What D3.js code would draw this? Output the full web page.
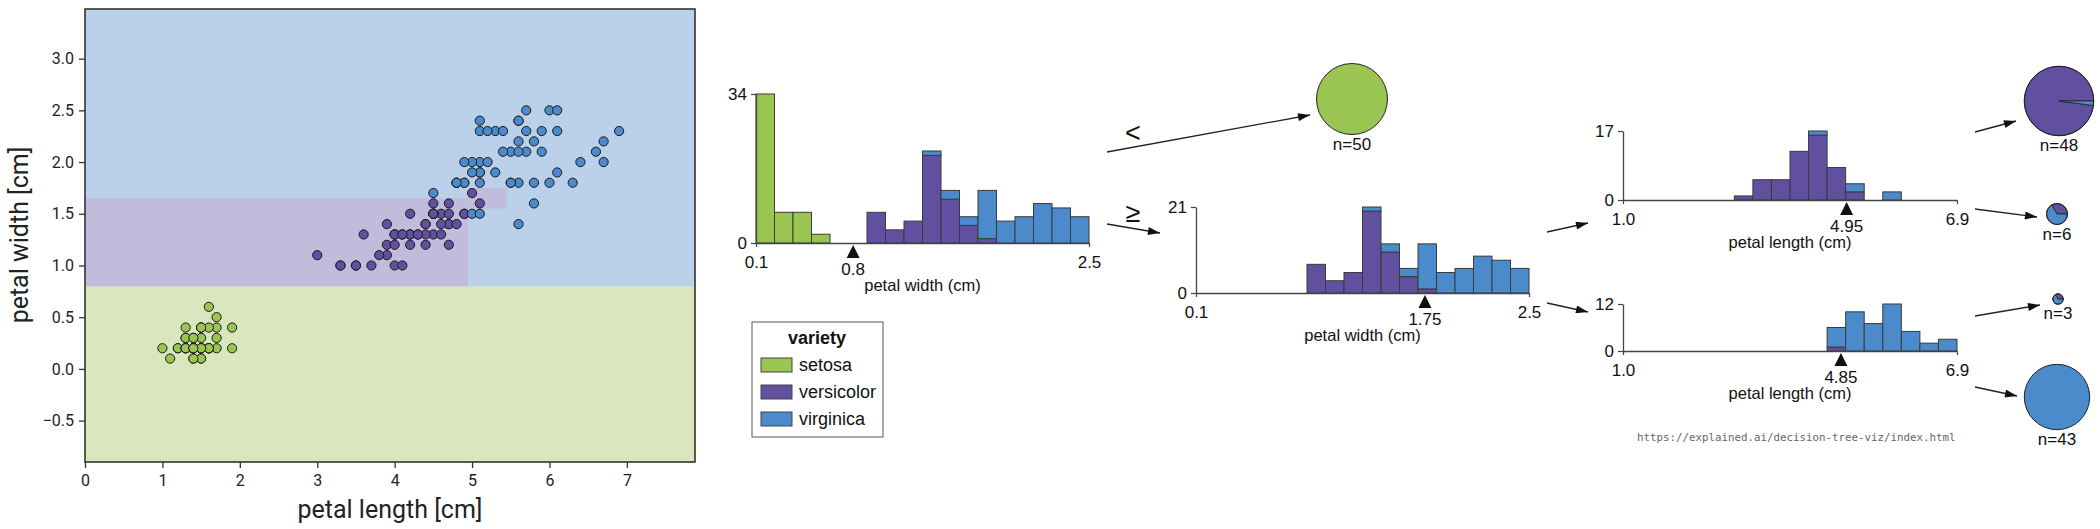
<!DOCTYPE html>
<html><head><meta charset="utf-8">
<script src="https://cdn.jsdelivr.net/npm/d3@7"></script>
<style>html,body{margin:0;padding:0;background:#fff;} svg{display:block;}</style>
</head><body>
<svg id="chart" width="2100" height="529"></svg>
<script>
// ---------------- data ----------------
const classNames = ["setosa", "versicolor", "virginica"];
const classColors = ["#9bc552", "#6150a0", "#4b8bcb"];
const regionColors = ["#d9e6be", "#c1bcdb", "#bbd1e9"];

const setosaLength = [1.4,1.4,1.3,1.5,1.4,1.7,1.4,1.5,1.4,1.5,1.5,1.6,1.4,1.1,1.2,1.5,1.3,1.4,1.7,1.5,1.7,1.5,1.0,1.7,1.9,1.6,1.6,1.5,1.4,1.6,1.6,1.5,1.5,1.4,1.5,1.2,1.3,1.4,1.3,1.5,1.3,1.3,1.3,1.6,1.9,1.4,1.6,1.4,1.5,1.4];
const setosaWidth = [0.2,0.2,0.2,0.2,0.2,0.4,0.3,0.2,0.2,0.1,0.2,0.2,0.1,0.1,0.2,0.4,0.4,0.3,0.3,0.3,0.2,0.4,0.2,0.5,0.2,0.2,0.4,0.2,0.2,0.2,0.2,0.4,0.1,0.2,0.2,0.2,0.2,0.1,0.2,0.2,0.3,0.3,0.2,0.6,0.4,0.3,0.2,0.2,0.2,0.2];
const versicolorLength = [4.7,4.5,4.9,4.0,4.6,4.5,4.7,3.3,4.6,3.9,3.5,4.2,4.0,4.7,3.6,4.4,4.5,4.1,4.5,3.9,4.8,4.0,4.9,4.7,4.3,4.4,4.8,5.0,4.5,3.5,3.8,3.7,3.9,5.1,4.5,4.5,4.7,4.4,4.1,4.0,4.4,4.6,4.0,3.3,4.2,4.2,4.2,4.3,3.0,4.1];
const versicolorWidth = [1.4,1.5,1.5,1.3,1.5,1.3,1.6,1.0,1.3,1.4,1.0,1.5,1.0,1.4,1.3,1.4,1.5,1.0,1.5,1.1,1.8,1.3,1.5,1.2,1.3,1.4,1.4,1.7,1.5,1.0,1.1,1.0,1.2,1.6,1.5,1.6,1.5,1.3,1.3,1.3,1.2,1.4,1.2,1.0,1.3,1.2,1.3,1.3,1.1,1.3];
const virginicaLength = [6.0,5.1,5.9,5.6,5.8,6.6,4.5,6.3,5.8,6.1,5.1,5.3,5.5,5.0,5.1,5.3,5.5,6.7,6.9,5.0,5.7,4.9,6.7,4.9,5.7,6.0,4.8,4.9,5.6,5.8,6.1,6.4,5.6,5.1,5.6,6.1,5.6,5.5,4.8,5.4,5.6,5.1,5.1,5.9,5.7,5.2,5.0,5.2,5.4,5.1];
const virginicaWidth = [2.5,1.9,2.1,1.8,2.2,2.1,1.7,1.8,1.8,2.5,2.0,1.9,2.1,2.0,2.4,2.3,1.8,2.2,2.3,1.5,2.3,2.0,2.0,1.8,2.1,1.8,1.8,1.8,2.1,1.6,1.9,2.0,2.2,1.5,1.4,2.3,2.4,1.8,1.8,2.1,2.4,2.3,1.9,2.3,2.5,2.3,1.9,2.0,2.3,1.8];

const scatterXTicks = [0, 1, 2, 3, 4, 5, 6, 7];
const scatterYTicks = [-0.5, 0, 0.5, 1.0, 1.5, 2.0, 2.5, 3.0];
const scatterXDomain = [0, 7.88];
const scatterYDomain = [-0.9, 3.48];
// decision regions: [xmin, xmax, ymin, ymax, class]
const regionBoxes = [[0, 7.88, -0.9, 0.8, 0], [0, 4.95, 0.8, 1.65, 1], [4.95, 5.45, 1.55, 1.75, 1]];

// histogram counts (18 bins each)
const widthRange = [0.1, 2.5];
const lengthRange = [1.0, 6.9];
const rootSetosa     = [34,7,7,2,0,0,0,0,0,0,0,0,0,0,0,0,0,0];
const rootVersicolor = [0,0,0,0,0,0,7,3,5,20,10,4,1,0,0,0,0,0];
const rootVirginica  = [0,0,0,0,0,0,0,0,0,1,2,2,11,5,6,9,8,6];
const node2Versicolor = [0,0,0,0,0,0,7,3,5,20,10,4,1,0,0,0,0,0];
const node2Virginica  = [0,0,0,0,0,0,0,0,0,1,2,2,11,5,6,9,8,6];
const leftLenVersicolor = [0,0,0,0,0,0,1,5,5,12,16,8,2,0,0,0,0,0];
const leftLenVirginica  = [0,0,0,0,0,0,0,0,0,0,1,0,2,0,2,0,0,0];
const rightLenVersicolor = [0,0,0,0,0,0,0,0,0,0,0,1,0,0,0,0,0,0];
const rightLenVirginica  = [0,0,0,0,0,0,0,0,0,0,0,5,10,7,12,5,2,3];
const splitValues = [0.8, 1.75, 4.95, 4.85];
const histMax = [34, 21, 17, 12];

// leaves: counts per class
const leaf50 = [50, 0, 0];
const leaf48 = [0, 47, 1];
const leaf6  = [0, 2, 4];
const leaf3  = [0, 1, 2];
const leaf43 = [0, 0, 43];

const urlText = "https://explained.ai/decision-tree-viz/index.html";

// ---------------- drawing ----------------
const svg = d3.select("#chart");
const sansFont = "'Liberation Sans', Arial, Helvetica, sans-serif";
const plotFont = "Roboto, 'DejaVu Sans', sans-serif";

svg.append("defs").append("marker")
  .attr("id", "arrow").attr("viewBox", "0 0 12 8")
  .attr("refX", 12).attr("refY", 4)
  .attr("markerWidth", 13).attr("markerHeight", 8)
  .attr("markerUnits", "userSpaceOnUse").attr("orient", "auto")
  .append("path").attr("d", "M0,0 L12,4 L0,8 Z").attr("fill", "#111");

// ---- scatter with decision regions ----
const sx = d3.scaleLinear().domain(scatterXDomain).range([85, 695]);
const sy = d3.scaleLinear().domain(scatterYDomain).range([462, 9]);
const sg = svg.append("g");
sg.append("rect").attr("x", sx(scatterXDomain[0])).attr("y", sy(scatterYDomain[1]))
  .attr("width", sx(scatterXDomain[1]) - sx(scatterXDomain[0]))
  .attr("height", sy(scatterYDomain[0]) - sy(scatterYDomain[1]))
  .attr("fill", regionColors[2]);
sg.selectAll(".region").data(regionBoxes).enter().append("rect")
  .attr("x", d => sx(d[0])).attr("width", d => sx(d[1]) - sx(d[0]))
  .attr("y", d => sy(d[3])).attr("height", d => sy(d[2]) - sy(d[3]))
  .attr("fill", d => regionColors[d[4]]);

const pointSets = [
  [setosaLength, setosaWidth],
  [versicolorLength, versicolorWidth],
  [virginicaLength, virginicaWidth]
];
pointSets.forEach((ps, k) => {
  const pts = ps[0].map((v, i) => [v, ps[1][i]]);
  sg.selectAll(null).data(pts).enter().append("circle")
    .attr("cx", d => sx(d[0])).attr("cy", d => sy(d[1])).attr("r", 4.6)
    .attr("fill", classColors[k]).attr("stroke", "#1a1a1a").attr("stroke-width", 1);
});
sg.append("rect").attr("x", 85).attr("y", 9).attr("width", 610).attr("height", 453)
  .attr("fill", "none").attr("stroke", "#333").attr("stroke-width", 1.6);

const xAxisS = sg.append("g").attr("transform", "translate(0,462)")
  .call(d3.axisBottom(sx).tickValues(scatterXTicks).tickFormat(d3.format("d")).tickSize(6).tickSizeOuter(0));
const yAxisS = sg.append("g").attr("transform", "translate(85,0)")
  .call(d3.axisLeft(sy).tickValues(scatterYTicks).tickFormat(d => d3.format(".1f")(d).replace("-", "\u2212")).tickSize(6).tickSizeOuter(0));
[xAxisS, yAxisS].forEach(a => {
  a.select(".domain").remove();
  a.selectAll("line").attr("stroke", "#333").attr("stroke-width", 1.3);
  a.selectAll("text").attr("font-family", plotFont).attr("font-size", 16).attr("fill", "#222");
});
xAxisS.selectAll("text").attr("y", 13);
yAxisS.selectAll("text").attr("x", -11);

sg.append("text").attr("x", 390).attr("y", 518).attr("text-anchor", "middle")
  .attr("font-family", plotFont).attr("font-size", 25).attr("fill", "#222").text("petal length [cm]");
sg.append("text").attr("transform", "translate(28,235) rotate(-90)").attr("text-anchor", "middle")
  .attr("font-family", plotFont).attr("font-size", 25).attr("fill", "#222").text("petal width [cm]");

// ---- histogram nodes ----
function histogram(cfg) {
  const g = svg.append("g");
  const x = d3.scaleLinear().domain(cfg.domain).range([cfg.x0, cfg.x1]);
  const y = d3.scaleLinear().domain([0, cfg.ymax]).range([cfg.base, cfg.top]);
  const n = cfg.counts[0].length;
  const step = (cfg.domain[1] - cfg.domain[0]) / n;
  const rows = d3.range(n).map(i => {
    const r = { i };
    cfg.counts.forEach((c, k) => { r[k] = c[i]; });
    return r;
  });
  const layers = d3.stack().keys(d3.range(cfg.counts.length))(rows);
  layers.forEach((layer, k) => {
    g.selectAll(null).data(layer.filter(d => d[1] > d[0])).enter().append("rect")
      .attr("x", d => x(cfg.domain[0] + d.data.i * step))
      .attr("width", d => x(cfg.domain[0] + (d.data.i + 1) * step) - x(cfg.domain[0] + d.data.i * step))
      .attr("y", d => y(d[1])).attr("height", d => y(d[0]) - y(d[1]))
      .attr("fill", classColors[cfg.classes[k]]).attr("stroke", "#3a3a3a").attr("stroke-width", 1);
  });
  const ya = g.append("g").attr("transform", `translate(${cfg.x0},0)`)
    .call(d3.axisLeft(y).tickValues([0, cfg.ymax]).tickFormat(d3.format("d")).tickSize(5).tickSizeOuter(0));
  const xa = g.append("g").attr("transform", `translate(0,${cfg.base})`)
    .call(d3.axisBottom(x).tickValues(cfg.domain).tickFormat(d3.format(".1f")).tickSize(4).tickSizeOuter(0));
  [ya, xa].forEach(a => {
    a.select(".domain").attr("stroke", "#444").attr("stroke-width", 1.3);
    a.selectAll("line").attr("stroke", "#444").attr("stroke-width", 1.2);
    a.selectAll("text").attr("font-family", sansFont).attr("font-size", 17).attr("fill", "#111");
  });
  ya.selectAll("text").attr("x", -9);
  xa.selectAll("text").attr("y", 13).attr("dy", "0.71em");
  // split marker
  const xs = x(cfg.split);
  g.append("path")
    .attr("d", `M${xs},${cfg.base + 2} L${xs + 6.5},${cfg.base + 15} L${xs - 6.5},${cfg.base + 15} Z`)
    .attr("fill", "#111");
  g.append("text").attr("x", xs).attr("y", cfg.base + 32).attr("text-anchor", "middle")
    .attr("font-family", sansFont).attr("font-size", 17).attr("fill", "#111").text(String(cfg.split));
  g.append("text").attr("x", (cfg.x0 + cfg.x1) / 2).attr("y", cfg.base + 48).attr("text-anchor", "middle")
    .attr("font-family", sansFont).attr("font-size", 16.5).attr("fill", "#111").text(cfg.label);
}

histogram({ x0: 756, x1: 1089, base: 243, top: 94, domain: widthRange, ymax: histMax[0],
  counts: [rootSetosa, rootVersicolor, rootVirginica], classes: [0, 1, 2], split: splitValues[0], label: "petal width (cm)" });
histogram({ x0: 1196, x1: 1529, base: 293, top: 207, domain: widthRange, ymax: histMax[1],
  counts: [node2Versicolor, node2Virginica], classes: [1, 2], split: splitValues[1], label: "petal width (cm)" });
histogram({ x0: 1623, x1: 1957, base: 200, top: 131, domain: lengthRange, ymax: histMax[2],
  counts: [leftLenVersicolor, leftLenVirginica], classes: [1, 2], split: splitValues[2], label: "petal length (cm)" });
histogram({ x0: 1623, x1: 1957, base: 351, top: 304, domain: lengthRange, ymax: histMax[3],
  counts: [rightLenVersicolor, rightLenVirginica], classes: [1, 2], split: splitValues[3], label: "petal length (cm)" });

// ---- edges ----
const edges = [
  [1107, 152, 1310, 115], [1107, 224, 1160, 233],
  [1547, 232, 1588, 223], [1547, 303, 1588, 312],
  [1975, 132, 2016, 121], [1975, 209, 2037, 217],
  [1975, 316, 2040, 305], [1975, 387, 2017, 396]
];
svg.append("g").selectAll("line").data(edges).enter().append("line")
  .attr("x1", d => d[0]).attr("y1", d => d[1]).attr("x2", d => d[2]).attr("y2", d => d[3])
  .attr("stroke", "#222").attr("stroke-width", 1.3).attr("marker-end", "url(#arrow)");
svg.append("text").attr("x", 1133).attr("y", 142).attr("text-anchor", "middle")
  .attr("font-family", sansFont).attr("font-size", 27).attr("fill", "#111").text("<");
svg.append("text").attr("x", 1133).attr("y", 222).attr("text-anchor", "middle")
  .attr("font-family", sansFont).attr("font-size", 27).attr("fill", "#111").text("\u2265");

// ---- leaves (pies) ----
const leaves = [
  { counts: leaf50, cx: 1352, cy: 99, r: 35.5 },
  { counts: leaf48, cx: 2059, cy: 101, r: 34.7 },
  { counts: leaf6,  cx: 2057, cy: 214, r: 10.5 },
  { counts: leaf3,  cx: 2058, cy: 299, r: 5.2 },
  { counts: leaf43, cx: 2057, cy: 397, r: 32.7 }
];
leaves.forEach(leaf => {
  const g = svg.append("g").attr("transform", `translate(${leaf.cx},${leaf.cy})`);
  const arc = d3.arc().innerRadius(0).outerRadius(leaf.r);
  const pieData = d3.pie().sort(null).value(d => d.c)
    .startAngle(Math.PI / 2).endAngle(Math.PI / 2 - 2 * Math.PI)(leaf.counts.map((c, k) => ({ c, k })).filter(d => d.c > 0));
  g.selectAll("path").data(pieData).enter().append("path")
    .attr("d", arc).attr("fill", d => classColors[d.data.k])
    .attr("stroke", pieData.length > 1 ? "#222" : "none").attr("stroke-width", 0.8);
  g.append("circle").attr("r", leaf.r).attr("fill", "none").attr("stroke", "#222").attr("stroke-width", 1);
  const total = d3.sum(leaf.counts);
  svg.append("text").attr("x", leaf.cx).attr("y", leaf.cy + leaf.r + 15).attr("text-anchor", "middle")
    .attr("font-family", sansFont).attr("font-size", 17).attr("fill", "#111").text("n=" + total);
});

// ---- legend ----
const lg = svg.append("g");
lg.append("rect").attr("x", 752).attr("y", 322).attr("width", 131).attr("height", 115)
  .attr("fill", "#fff").attr("stroke", "#555").attr("stroke-width", 1);
lg.append("text").attr("x", 817).attr("y", 344).attr("text-anchor", "middle")
  .attr("font-family", sansFont).attr("font-size", 18).attr("font-weight", "bold").attr("fill", "#111").text("variety");
classNames.forEach((name, k) => {
  lg.append("rect").attr("x", 761).attr("y", 358 + k * 27).attr("width", 31).attr("height", 14)
    .attr("fill", classColors[k]).attr("stroke", "#444").attr("stroke-width", 1);
  lg.append("text").attr("x", 799).attr("y", 371 + k * 27)
    .attr("font-family", sansFont).attr("font-size", 18).attr("fill", "#111").text(name);
});

// ---- url ----
svg.append("text").attr("x", 1637).attr("y", 441)
  .attr("font-family", "'DejaVu Sans Mono', 'Liberation Mono', monospace").attr("font-size", 10.8)
  .attr("fill", "#666").text(urlText);
</script>
</body></html>
